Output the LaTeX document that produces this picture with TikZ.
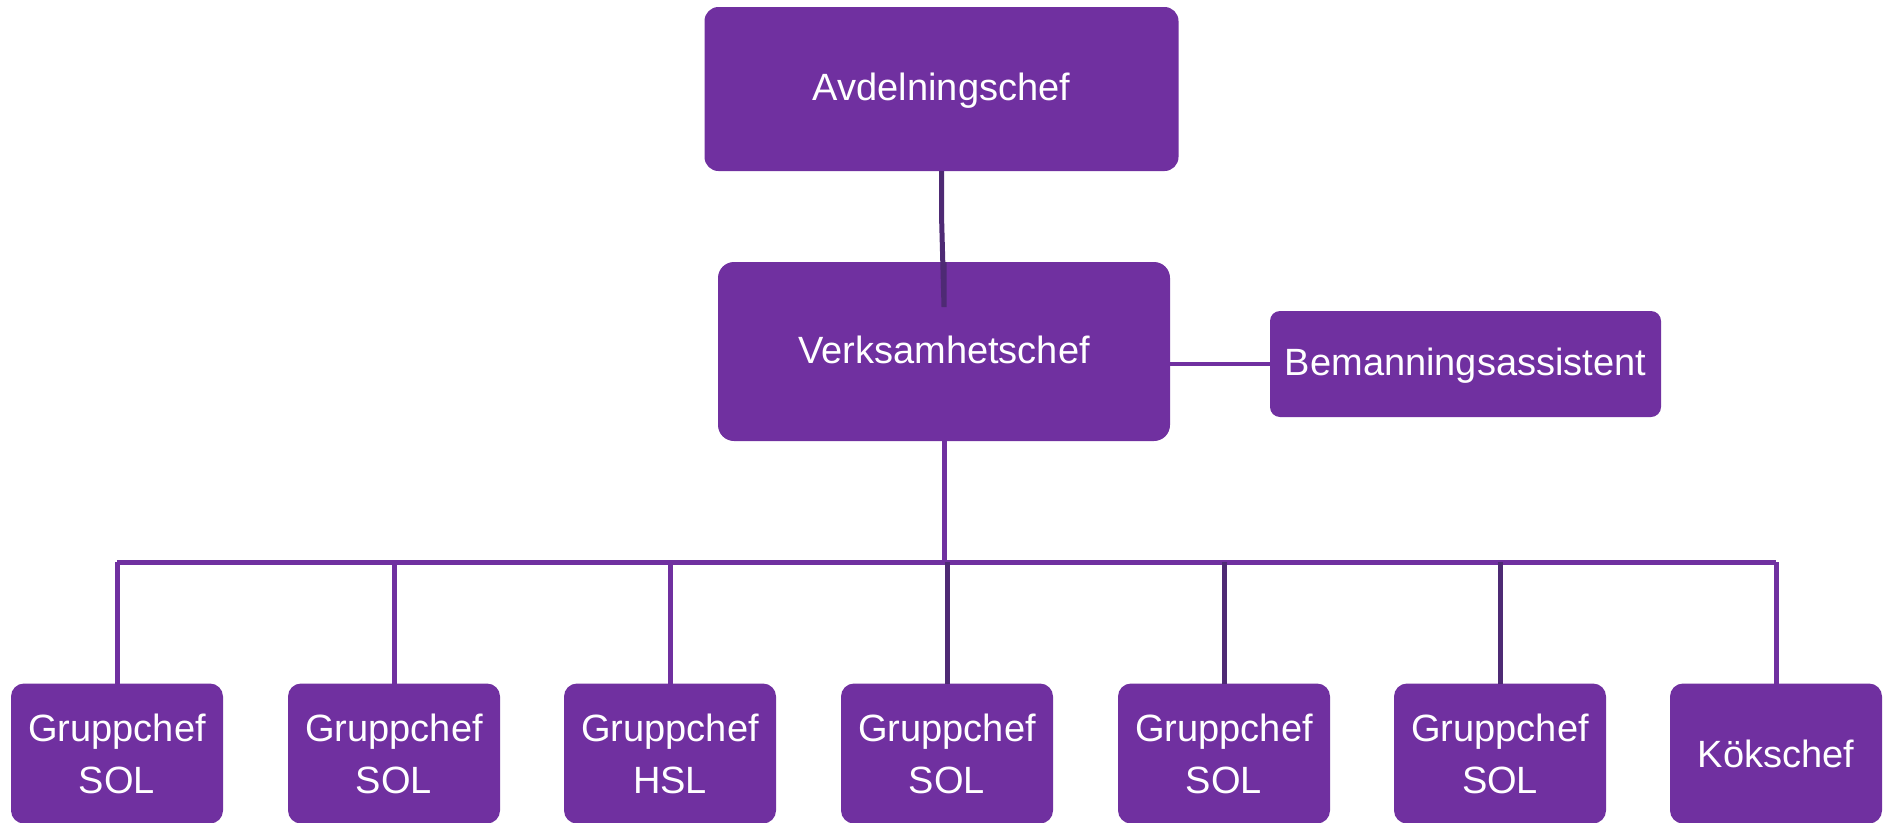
\documentclass[tikz,border=0pt]{standalone}
\usepackage{fontspec}
\setmainfont{Liberation Sans}
\definecolor{boxpurple}{HTML}{7030A0}
\definecolor{darkline}{HTML}{4E2A74}
\begin{document}
\begin{tikzpicture}[x=1pt,y=-1pt,
  orgbox/.style={fill=boxpurple, text=white, inner sep=0pt, outer sep=0pt,
    align=center, font=\fontsize{38}{52}\selectfont},
  oneline/.style={text height=27pt, text depth=4pt},
  conn/.style={draw=boxpurple, line width=5pt},
  darkconn/.style={draw=darkline, line width=5pt},
]
\useasboundingbox (0,0) rectangle (1889,822);
% top level
\node[orgbox, oneline, minimum width=474pt, minimum height=164pt, rounded corners=14pt] (avd) at (941.5,89) {Avdelningschef};
\node[orgbox, oneline, minimum width=452pt, minimum height=179pt, rounded corners=16pt] (verks) at (944,351.5) {Verksamhetschef};
\node[orgbox, oneline, minimum width=391pt, minimum height=106pt, rounded corners=10pt] (bem) at (1465.5,364) {Bemanningsassistent};
% bottom row
\foreach \i/\x/\txt in {1/117/{Gruppchef\\SOL},2/394/{Gruppchef\\SOL},3/670/{Gruppchef\\HSL},4/947/{Gruppchef\\SOL},5/1224/{Gruppchef\\SOL},6/1500/{Gruppchef\\SOL},7/1776/{Kökschef}}{
  \node[orgbox, minimum width=212pt, minimum height=140pt, rounded corners=13pt] (g\i) at (\x,753.5) {\txt};
}
\coordinate (bus) at (944,562);
% connectors
\draw[darkconn] (avd.south) -- ++(0,44) -- ([yshift=-45pt]verks.north) -- (verks.north);
\draw[conn, line width=4pt] (verks.east |- bem.west) -- (bem.west);
\draw[conn] (verks.south) -- (bus);
\draw[conn, line join=round] (bus -| g1.north) -- (bus -| g7.north);
\foreach \i in {1,2,3,7}{ \draw[conn] (g\i.north) -- (g\i.north |- bus); }
\foreach \i in {4,5,6}{ \draw[darkconn] (g\i.north) -- (g\i.north |- bus); }
\end{tikzpicture}
\end{document}
